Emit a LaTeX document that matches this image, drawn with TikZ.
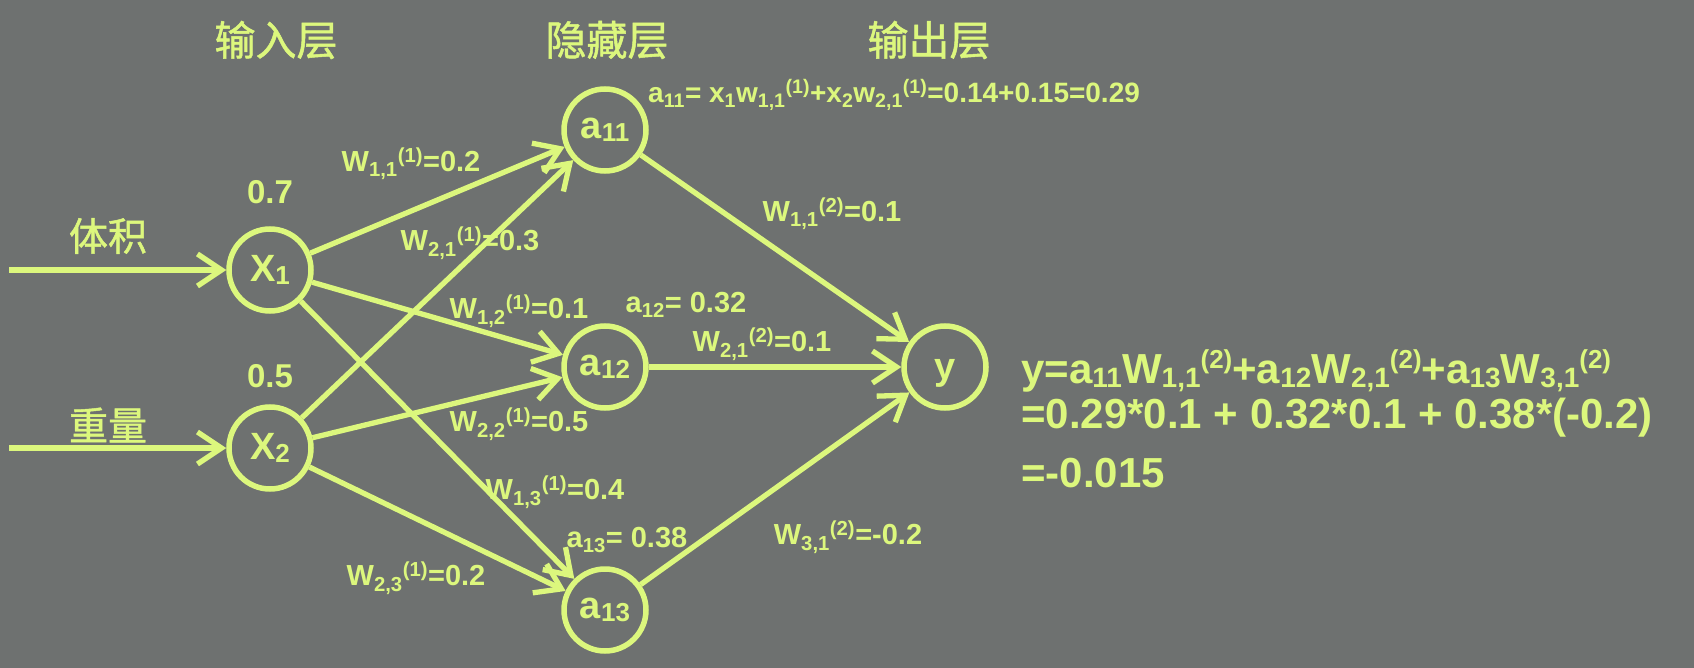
\documentclass[tikz,border=0pt]{standalone}
\usepackage{fontspec}
\setmainfont{Liberation Sans}
\newfontfamily\cjk[FakeBold=1.2]{Noto Sans CJK SC}
\usetikzlibrary{arrows.meta}
\definecolor{bg}{RGB}{110,113,112}
\definecolor{fg}{RGB}{220,247,125}
\newcommand{\Wlab}[3]{W\textsubscript{#1}\textsuperscript{(#2)}=#3}
\newcommand{\nsub}[1]{\raisebox{-3pt}{\fontsize{26}{26}\selectfont #1}}
\newcommand{\esub}[1]{\raisebox{-4pt}{\fontsize{28}{28}\selectfont #1}}
\newcommand{\esup}[1]{\raisebox{15pt}{\fontsize{26}{26}\selectfont #1}}
\begin{document}
\begin{tikzpicture}[x=1pt,y=-1pt,
  neuron/.style={circle,draw=fg,line width=5.5pt,minimum size=82pt,inner sep=0pt,text=fg,
    font=\fontsize{38}{38}\selectfont\bfseries},
  conn/.style={draw=fg,line width=5.3pt,-{Straight Barb[length=24pt,width=32pt]}},
  title/.style={text=fg,font=\fontsize{41}{41}\selectfont\cjk},
  inlab/.style={text=fg,font=\fontsize{39}{39}\selectfont\cjk},
  wlab/.style={text=fg,inner sep=0pt,font=\fontsize{29}{29}\selectfont\bfseries},
  val/.style={text=fg,inner sep=0pt,font=\fontsize{33}{33}\selectfont\bfseries},
  eq/.style={text=fg,inner sep=0pt,anchor=base west,font=\fontsize{42}{42}\selectfont\bfseries},
  smalleq/.style={text=fg,inner sep=0pt,anchor=west,font=\fontsize{28}{28}\selectfont\bfseries}
]
\fill[bg] (0,0) rectangle (1694,668);
\useasboundingbox (0,0) rectangle (1694,668);

% titles
\node[title] (t1) at (276,40) {输入层};
\node[title] (t2) at (607,40) {隐藏层};
\node[title] (t3) at (929,40) {输出层};

% neurons
\node[neuron] (x1) at (270,270) {X\nsub{1}};
\node[neuron] (x2) at (270,448) {X\nsub{2}};
\node[neuron] (a11) at (605,130) {a\nsub{11}};
\node[neuron] (a12) at (605,367) {a\nsub{12}};
\node[neuron] (a13) at (605,610) {a\nsub{13}};
\node[neuron,text height=24pt,text depth=0pt] (y) at (945,367) {y};

% inputs
\coordinate (in1) at (9,270);
\coordinate (in2) at (9,448);
\node[inlab] (l1) at (108,236) {体积};
\node[inlab] (l2) at (108,425) {重量};
\draw[conn] (in1) -- (x1);
\draw[conn] (in2) -- (x2);
\node[val] (v1) at (270,192) {0.7};
\node[val] (v2) at (270,376) {0.5};

% layer 1 connections
\draw[conn] (x1) -- (a11);
\draw[conn] (x1) -- (a12);
\draw[conn] (x1) -- (a13);
\draw[conn] (x2) -- (a11);
\draw[conn] (x2) -- (a12);
\draw[conn] (x2) -- (a13);

% layer 2 connections
\draw[conn] (a11) -- (y);
\draw[conn] (a12) -- (y);
\draw[conn] (a13) -- (y);

% weight labels
\node[wlab] (w11) at (411,164) {\Wlab{1,1}{1}{0.2}};
\node[wlab] (w21) at (470,243) {\Wlab{2,1}{1}{0.3}};
\node[wlab] (w12) at (519,311) {\Wlab{1,2}{1}{0.1}};
\node[wlab] (w22) at (519,424) {\Wlab{2,2}{1}{0.5}};
\node[wlab] (w13) at (555,492) {\Wlab{1,3}{1}{0.4}};
\node[wlab] (w23) at (416,578) {\Wlab{2,3}{1}{0.2}};
\node[wlab] (v11) at (832,214) {\Wlab{1,1}{2}{0.1}};
\node[wlab] (v21) at (762,344) {\Wlab{2,1}{2}{0.1}};
\node[wlab] (v31) at (848,537) {\Wlab{3,1}{2}{-0.2}};

% activation values
\node[smalleq] (e11) at (648,95) {a\textsubscript{11}= x\textsubscript{1}w\textsubscript{1,1}\textsuperscript{(1)}+x\textsubscript{2}w\textsubscript{2,1}\textsuperscript{(1)}=0.14+0.15=0.29};
\node[wlab] (e12) at (686,305) {a\textsubscript{12}= 0.32};
\node[wlab] (e13) at (627,540) {a\textsubscript{13}= 0.38};

% output equation
\node[eq] (o1) at (1021,383) {y=a\esub{11}W\esub{1,1}\esup{(2)}+a\esub{12}W\esub{2,1}\esup{(2)}+a\esub{13}W\esub{3,1}\esup{(2)}};
\node[eq] (o2) at (1021,428) {=0.29*0.1 + 0.32*0.1 + 0.38*(-0.2)};
\node[eq] (o3) at (1021,487) {=-0.015};
\end{tikzpicture}
\end{document}
